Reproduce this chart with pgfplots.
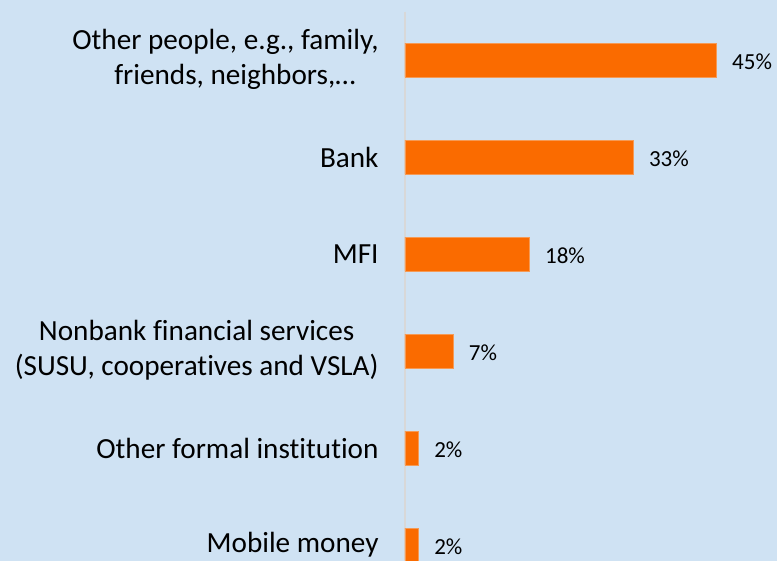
\documentclass[border=0pt]{standalone}
\usepackage{pgfplots}
\pgfplotsset{compat=1.18}
\usepackage{fontspec}
\setmainfont{Carlito}[Ligatures=NoCommon]
\definecolor{bg}{HTML}{CFE2F3}
\definecolor{barc}{HTML}{FA6B00}
\definecolor{bare}{HTML}{F59A55}
\definecolor{axl}{HTML}{D8D8D8}
\begin{document}
\begin{tikzpicture}[x=1pt,y=1pt]
\fill[bg] (-3pt,-3pt) rectangle (780pt,563pt);
\begin{axis}[
  at={(405pt,0pt)}, anchor=south west,
  scale only axis, width=346.5pt, height=548.5pt,
  xmin=0, xmax=50, ymin=-0.5, ymax=5.1546, y dir=reverse,
  xbar, bar width=34pt, bar shift=0pt,
  axis x line=none, axis y line*=left,
  y axis line style={draw=axl, line width=1.5pt},
  ytick={0,1,2,3,4,5},
  ytick style={draw=none},
  yticklabels={
    {\begin{tabular}{@{}r@{}}Other people, e.g., family,\\friends, neighbors,…\hspace*{23pt}\end{tabular}},
    Bank, MFI,
    {\begin{tabular}{@{}c@{}}Nonbank financial services\\(SUSU, cooperatives and VSLA)\end{tabular}},
    Other formal institution, Mobile money},
  yticklabel style={anchor=east, inner sep=0pt, xshift=-22pt, font=\fontsize{29.2}{34.5}\selectfont},
  /pgf/number format/assume math mode=true,
  nodes near coords={\pgfmathprintnumber{\pgfplotspointmeta}\%},
  nodes near coords style={anchor=west, inner sep=0pt, xshift=15pt, yshift=-2pt, font=\fontsize{23}{27}\selectfont, text=black},
]
\addplot[fill=barc, draw=bare, line width=0.8pt] coordinates {(45,0) (33,1) (18,2) (7,3) (2,4) (2,5)};
\end{axis}
\pgfresetboundingbox
\path[use as bounding box] (0pt,0pt) rectangle (777pt,560pt);
\end{tikzpicture}
\end{document}
